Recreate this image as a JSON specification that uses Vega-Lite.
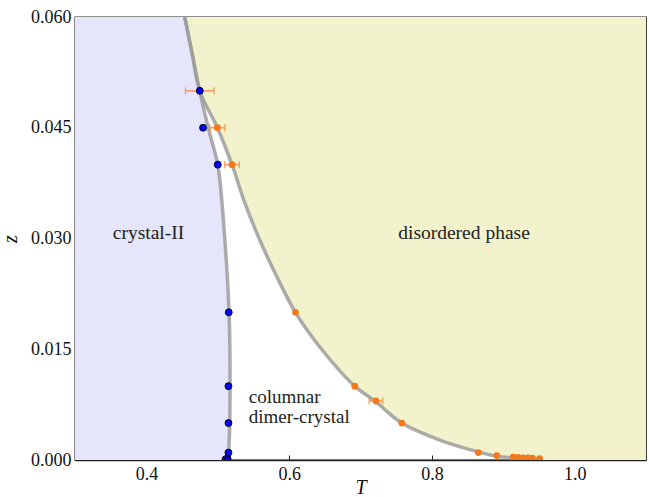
{
  "$schema": "https://vega.github.io/schema/vega-lite/v6.json",
  "width": 571,
  "height": 443,
  "autosize": "none",
  "padding": {"left": 75, "top": 17, "right": 3, "bottom": 37},
  "background": "white",
  "config": {
    "font": "Liberation Serif",
    "view": {"stroke": "#222", "strokeWidth": 1.3},
    "axis": {
      "grid": false,
      "domainColor": "#222",
      "domainWidth": 1.3,
      "tickColor": "#222",
      "tickSize": -5,
      "tickWidth": 1,
      "labelFont": "Liberation Serif",
      "labelFontSize": 18,
      "labelColor": "#111",
      "titleFont": "Liberation Serif",
      "titleFontSize": 20,
      "titleFontStyle": "italic",
      "titleFontWeight": "normal",
      "titleColor": "#111"
    }
  },
  "datasets": {
    "crystal": [
      {"T": 0.4537, "z": 0.06},
      {"T": 0.4642, "z": 0.055},
      {"T": 0.4747, "z": 0.05},
      {"T": 0.4866, "z": 0.045},
      {"T": 0.5, "z": 0.04},
      {"T": 0.5058, "z": 0.035},
      {"T": 0.5098, "z": 0.03},
      {"T": 0.5133, "z": 0.025},
      {"T": 0.5158, "z": 0.02},
      {"T": 0.517, "z": 0.015},
      {"T": 0.5172, "z": 0.01},
      {"T": 0.5168, "z": 0.005},
      {"T": 0.515, "z": 0.0}
    ],
    "disorder": [
      {"T": 0.4537, "z": 0.06},
      {"T": 0.4642, "z": 0.055},
      {"T": 0.4747, "z": 0.05},
      {"T": 0.4995, "z": 0.045},
      {"T": 0.52, "z": 0.04},
      {"T": 0.5373, "z": 0.035},
      {"T": 0.558, "z": 0.03},
      {"T": 0.5819, "z": 0.025},
      {"T": 0.6088, "z": 0.02},
      {"T": 0.6455, "z": 0.015},
      {"T": 0.692, "z": 0.01},
      {"T": 0.72, "z": 0.008},
      {"T": 0.758, "z": 0.005},
      {"T": 0.811, "z": 0.0027},
      {"T": 0.865, "z": 0.0011},
      {"T": 0.891, "z": 0.0005},
      {"T": 0.923, "z": 0.0002},
      {"T": 0.951, "z": 0.0}
    ],
    "blue": [
      {"T": 0.4748, "z": 0.05},
      {"T": 0.4794, "z": 0.045},
      {"T": 0.5, "z": 0.04},
      {"T": 0.5154, "z": 0.02},
      {"T": 0.515, "z": 0.01},
      {"T": 0.515, "z": 0.005},
      {"T": 0.515, "z": 0.001},
      {"T": 0.5135, "z": 0.0002},
      {"T": 0.511, "z": 0.0001},
      {"T": 0.514, "z": 0.0}
    ],
    "orange": [
      {"T": 0.4748, "z": 0.05},
      {"T": 0.4995, "z": 0.045},
      {"T": 0.52, "z": 0.04},
      {"T": 0.609, "z": 0.02},
      {"T": 0.692, "z": 0.01},
      {"T": 0.7216, "z": 0.008},
      {"T": 0.758, "z": 0.005},
      {"T": 0.865, "z": 0.001},
      {"T": 0.891, "z": 0.0006},
      {"T": 0.914, "z": 0.0004},
      {"T": 0.921, "z": 0.00035},
      {"T": 0.928, "z": 0.0003},
      {"T": 0.935, "z": 0.0003},
      {"T": 0.941, "z": 0.00025},
      {"T": 0.951, "z": 0.0002}
    ],
    "errs": [
      {"T": 0.4748, "z": 0.05, "err": 0.02},
      {"T": 0.4995, "z": 0.045, "err": 0.0105},
      {"T": 0.52, "z": 0.04, "err": 0.0102},
      {"T": 0.7216, "z": 0.008, "err": 0.0094}
    ],
    "labelsCenter": [
      {"T": 0.403, "z": 0.0307, "label": "crystal-II"},
      {"T": 0.845, "z": 0.0307, "label": "disordered phase"}
    ],
    "labelsLeft": [
      {"T": 0.5435, "z": 0.00853, "label": "columnar"},
      {"T": 0.5435, "z": 0.00582, "label": "dimer-crystal"}
    ]
  },
  "encoding": {
    "x": {
      "field": "T",
      "type": "quantitative",
      "scale": {"domain": [0.3, 1.1], "nice": false, "zero": false},
      "axis": {"title": "T", "values": [0.4, 0.6, 0.8, 1.0], "format": ".1f", "labelPadding": 10, "titlePadding": -6}
    },
    "y": {
      "field": "z",
      "type": "quantitative",
      "scale": {"domain": [0, 0.06], "nice": false, "zero": false},
      "axis": {"title": "z", "values": [0, 0.015, 0.03, 0.045, 0.06], "format": ".3f", "labelPadding": 9, "titlePadding": 10}
    }
  },
  "layer": [
    {
      "data": {"name": "crystal"},
      "mark": {"type": "area", "orient": "horizontal", "interpolate": "catmull-rom", "color": "#e5e5fb", "clip": true},
      "encoding": {"x2": {"datum": 0.3}}
    },
    {
      "data": {"name": "disorder"},
      "mark": {"type": "area", "orient": "horizontal", "interpolate": "catmull-rom", "color": "#f2f2cc", "clip": true},
      "encoding": {"x2": {"datum": 1.1}}
    },
    {
      "data": {"name": "crystal"},
      "mark": {"type": "line", "interpolate": "catmull-rom", "color": "#9e9e9e", "strokeWidth": 3.5, "opacity": 0.85, "clip": true},
      "encoding": {"order": {"field": "z", "type": "quantitative"}}
    },
    {
      "data": {"name": "disorder"},
      "mark": {"type": "line", "interpolate": "catmull-rom", "color": "#9e9e9e", "strokeWidth": 3.5, "opacity": 0.85, "clip": true},
      "encoding": {"order": {"field": "z", "type": "quantitative"}}
    },
    {
      "data": {"name": "errs"},
      "mark": {"type": "errorbar", "ticks": {"size": 7, "color": "#f07a1e", "thickness": 1.3}, "rule": {"color": "#f7a46e", "strokeWidth": 1.8}},
      "encoding": {"xError": {"field": "err"}}
    },
    {
      "data": {"name": "orange"},
      "mark": {"type": "point", "filled": true, "size": 46, "color": "#f27a1a", "opacity": 1, "clip": true}
    },
    {
      "data": {"name": "blue"},
      "mark": {"type": "point", "filled": true, "size": 48, "fill": "#0000ff", "stroke": "#000", "strokeWidth": 0.9, "opacity": 1, "clip": true}
    },
    {
      "data": {"name": "labelsCenter"},
      "mark": {"type": "text", "align": "center", "baseline": "middle", "fontSize": 19.5, "font": "Liberation Serif", "color": "#222"},
      "encoding": {"text": {"field": "label"}}
    },
    {
      "data": {"name": "labelsLeft"},
      "mark": {"type": "text", "align": "left", "baseline": "middle", "fontSize": 19, "font": "Liberation Serif", "color": "#222"},
      "encoding": {"text": {"field": "label"}}
    }
  ]
}
